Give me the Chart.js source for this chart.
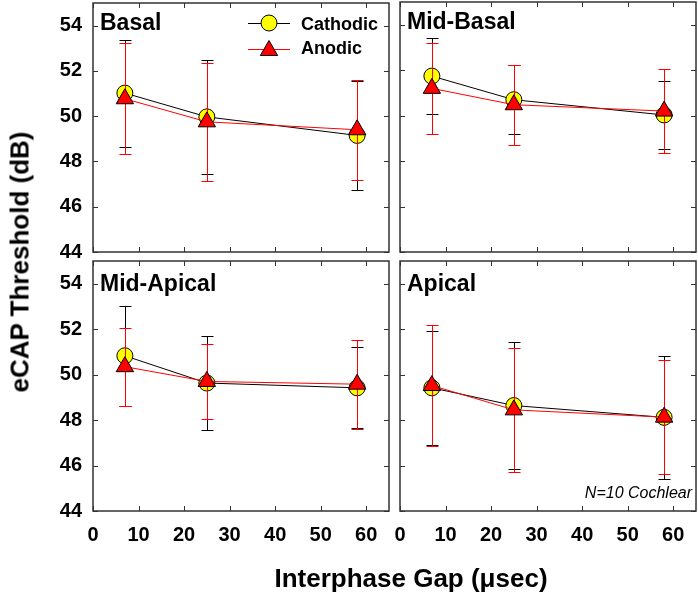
<!DOCTYPE html>
<html>
<head>
<meta charset="utf-8">
<script src="https://cdn.jsdelivr.net/npm/chart.js@4.4.1/dist/chart.umd.min.js"></script>
<style>
  body { margin: 0; background: #fff; width: 698px; height: 596px; position: relative; overflow: hidden; font-family: "Liberation Sans", Arial, sans-serif; }
  canvas { position: absolute; left: 0; top: -20px; }
  #ytitle { position: absolute; left: 20px; top: 262px; transform: translate(-50%, -50%) rotate(-90deg); font-weight: bold; font-size: 26px; white-space: nowrap; color: #000; }
  #xtitle { position: absolute; left: 411px; top: 578px; transform: translate(-50%, -50%); font-weight: bold; font-size: 26px; white-space: nowrap; color: #000; }
</style>
</head>
<body>
<canvas id="c0" width="718" height="616"></canvas>
<canvas id="c1" width="718" height="616"></canvas>
<canvas id="c2" width="718" height="616"></canvas>
<canvas id="c3" width="718" height="616"></canvas>
<div id="ytitle">eCAP Threshold (dB)</div>
<div id="xtitle">Interphase Gap (&mu;sec)</div>
<script>
// data
const gaps = [7, 25, 58]
const regions = ['Basal', 'Mid-Basal', 'Mid-Apical', 'Apical']
const cathodicMean = [[51.02, 49.97, 49.15], [51.74, 50.70, 50.03], [50.83, 49.63, 49.42], [49.42, 48.64, 48.12]]
const cathodicSD   = [[2.36, 2.51, 2.39], [1.68, 1.52, 1.50], [2.20, 2.08, 1.79], [2.50, 2.78, 2.71]]
const anodicMean   = [[50.77, 49.75, 49.40], [51.20, 50.48, 50.20], [50.35, 49.70, 49.58], [49.52, 48.45, 48.13]]
const anodicSD     = [[2.45, 2.62, 2.21], [2.00, 1.76, 1.85], [1.72, 1.65, 1.95], [2.67, 2.73, 2.51]]
const yTicks = [44, 46, 48, 50, 52, 54]
const xTicks = [0, 10, 20, 30, 40, 50, 60]
const note = 'N=10 Cochlear'

// panel boxes in page pixels (canvas is shifted up by 20px)
const SHIFT = 20
const boxes = [
  { l: 93, t: 2, r: 389, b: 252 },
  { l: 400, t: 2, r: 696, b: 252 },
  { l: 93, t: 261, r: 389, b: 511 },
  { l: 400, t: 261, r: 696, b: 511 }
]

const FONT = '"Liberation Sans", Arial, sans-serif'
const FRAME = '#333'

const drawErrorBars = (chart, ds, meta) => {
  const ctx = chart.ctx
  const y = chart.scales.y
  ctx.save()
  ctx.strokeStyle = ds.barColor
  ctx.lineWidth = 1
  ds.data.forEach((p, i) => {
    const px = Math.round(meta.data[i].x) + 0.5
    const top = Math.round(y.getPixelForValue(p.y + ds.sd[i])) + 0.5
    const bot = Math.round(y.getPixelForValue(p.y - ds.sd[i])) + 0.5
    ctx.beginPath()
    ctx.moveTo(px, top); ctx.lineTo(px, bot)
    ctx.moveTo(px - 6, top); ctx.lineTo(px + 6, top)
    ctx.moveTo(px - 6, bot); ctx.lineTo(px + 6, bot)
    ctx.stroke()
  })
  ctx.restore()
}

const panelPlugin = {
  id: 'panel',
  beforeDatasetDraw(chart, args) {
    drawErrorBars(chart, chart.data.datasets[args.index], args.meta)
  },
  afterDraw(chart, args, opts) {
    const ctx = chart.ctx
    const a = chart.chartArea
    const sx = chart.scales.x, sy = chart.scales.y
    ctx.save()
    // frame
    ctx.strokeStyle = FRAME
    ctx.lineWidth = 1.5
    ctx.strokeRect(a.left, a.top, a.right - a.left, a.bottom - a.top)
    // inward ticks on all sides
    ctx.lineWidth = 1
    ctx.beginPath()
    xTicks.forEach(v => {
      const px = Math.round(sx.getPixelForValue(v)) + 0.5
      ctx.moveTo(px, a.bottom); ctx.lineTo(px, a.bottom - 5)
      ctx.moveTo(px, a.top); ctx.lineTo(px, a.top + 5)
    })
    yTicks.forEach(v => {
      const py = Math.round(sy.getPixelForValue(v)) + 0.5
      ctx.moveTo(a.left, py); ctx.lineTo(a.left + 5, py)
      ctx.moveTo(a.right, py); ctx.lineTo(a.right - 5, py)
    })
    ctx.stroke()
    // region label
    ctx.fillStyle = '#000'
    ctx.font = 'bold 23px ' + FONT
    ctx.textBaseline = 'alphabetic'
    ctx.textAlign = 'left'
    ctx.fillText(opts.label, a.left + 7, a.top + opts.labelDy)
    // legend
    if (opts.legend) {
      const ds = chart.data.datasets
      const rows = [ds[1], ds[0]]
      rows.forEach((d, i) => {
        const cy = a.top + (i === 0 ? 20 : 45.5)
        ctx.strokeStyle = d.borderColor
        ctx.lineWidth = 1
        ctx.beginPath()
        ctx.moveTo(a.left + 155, Math.round(cy) + 0.5)
        ctx.lineTo(a.left + 197, Math.round(cy) + 0.5)
        ctx.stroke()
        ctx.fillStyle = d.pointBackgroundColor
        ctx.strokeStyle = d.pointBorderColor
        ctx.lineWidth = d.pointBorderWidth
        Chart.helpers.drawPoint(ctx, { pointStyle: d.pointStyle, radius: d.pointRadius, rotation: 0, borderWidth: d.pointBorderWidth }, a.left + 176, cy + (i === 0 ? 0 : 2))
        ctx.fillStyle = '#000'
        ctx.font = 'bold 18px ' + FONT
        ctx.fillText(d.label, a.left + 208, a.top + (i === 0 ? 26.5 : 51))
      })
    }
    if (opts.note) {
      ctx.fillStyle = '#000'
      ctx.font = 'italic 16px ' + FONT
      ctx.textAlign = 'right'
      ctx.fillText(opts.note, a.right - 4, a.bottom - 13)
    }
    ctx.restore()
  }
}

regions.forEach((name, k) => {
  const box = boxes[k]
  const isLeft = k % 2 === 0
  const isBottom = k >= 2
  const yw = isLeft ? box.l : 0
  const xh = isBottom ? 60 : 0
  const pts = (means) => gaps.map((g, i) => ({ x: g, y: means[i] }))
  new Chart(document.getElementById('c' + k), {
    type: 'scatter',
    data: {
      datasets: [{
        label: 'Anodic',
        data: pts(anodicMean[k]),
        sd: anodicSD[k],
        barColor: '#f00',
        showLine: true,
        borderColor: '#f00',
        borderWidth: 1,
        pointStyle: 'triangle',
        pointRadius: 10,
        pointBackgroundColor: '#f00',
        pointBorderColor: '#000',
        pointBorderWidth: 1
      }, {
        label: 'Cathodic',
        data: pts(cathodicMean[k]),
        sd: cathodicSD[k],
        barColor: '#000',
        showLine: true,
        borderColor: '#000',
        borderWidth: 1,
        pointStyle: 'circle',
        pointRadius: 8,
        pointBackgroundColor: '#ffff00',
        pointBorderColor: '#000',
        pointBorderWidth: 1
      }]
    },
    options: {
      responsive: false,
      animation: false,
      devicePixelRatio: 1,
      layout: {
        autoPadding: false,
        padding: { left: box.l - yw, top: box.t + SHIFT, right: 718 - box.r, bottom: 596 - box.b - xh }
      },
      plugins: {
        legend: { display: false },
        tooltip: { enabled: false },
        panel: { label: name, labelDy: isBottom ? 30 : 26.5, legend: k === 0, note: k === 3 ? note : '' }
      },
      scales: {
        x: {
          type: 'linear', min: 0, max: 65,
          grid: { display: false, drawTicks: false },
          border: { display: false },
          afterFit: (s) => { s.height = xh },
          ticks: { display: isBottom, stepSize: 10, includeBounds: false, autoSkip: false, maxRotation: 0, padding: 12, color: '#000', font: { family: FONT, size: 20, weight: 'bold' } }
        },
        y: {
          type: 'linear', min: 44, max: 55,
          grid: { display: false, drawTicks: false },
          border: { display: false },
          afterFit: (s) => { s.width = yw },
          ticks: { display: isLeft, stepSize: 2, includeBounds: false, autoSkip: false, padding: 11, color: '#000', font: { family: FONT, size: 20, weight: 'bold' } }
        }
      }
    },
    plugins: [panelPlugin]
  })
})
</script>
</body>
</html>
